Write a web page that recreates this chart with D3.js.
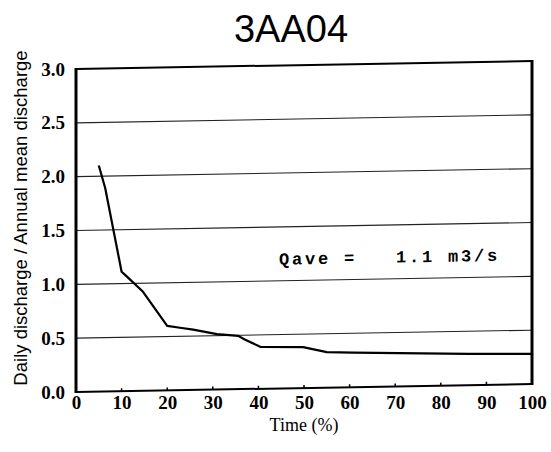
<!DOCTYPE html>
<html>
<head>
<meta charset="utf-8">
<script src="https://cdn.jsdelivr.net/npm/d3@7"></script>
<style>
  html, body { margin: 0; padding: 0; background: #fff; }
  svg { display: block; }
</style>
</head>
<body>
<div id="chart"></div>
<script>
// ---- data ----
const title = "3AA04";
const timePct = [5, 6.4, 10, 11, 14.7, 20, 22.8, 25.7, 30.9, 35.6, 37, 40.4, 49.8, 55, 60.7, 86, 100];
const ratio   = [2.10, 1.89, 1.11, 1.07, 0.92, 0.60, 0.58, 0.56, 0.515, 0.495, 0.46, 0.39, 0.38, 0.33, 0.32, 0.29, 0.28];
const xTicks = [0, 10, 20, 30, 40, 50, 60, 70, 80, 90, 100];
const yTicks = [0.0, 0.5, 1.0, 1.5, 2.0, 2.5, 3.0];
const xLabel = "Time (%)";
const yLabel = "Daily discharge / Annual mean discharge";
const annotation = "Qave =   1.1 m3/s";
const annotationAt = {x: 44.5, y: 1.15};

(function () {
// ---- layout ----
const W = 551, H = 452;
const pL = 76, pR = 532, pT = 69, pB = 392;
const skew = -0.0175;

const svg = d3.select("#chart").append("svg")
  .attr("width", W).attr("height", H);

const x = d3.scaleLinear().domain([0, 100]).range([pL, pR]);
const y = d3.scaleLinear().domain([0, 3]).range([pB, pT]);

// title
svg.append("text")
  .attr("x", 291).attr("y", 42)
  .attr("text-anchor", "middle")
  .attr("font-family", "Liberation Sans, Arial, sans-serif")
  .attr("font-size", 38)
  .attr("fill", "#000")
  .text(title);

// plot group (scan slightly sheared)
const g = svg.append("g")
  .attr("transform", `matrix(1,${skew},0,1,0,${-skew * pL})`);

// gridlines
g.append("g").selectAll("line")
  .data(yTicks.filter(d => d > 0 && d < 3))
  .join("line")
  .attr("x1", x(0)).attr("x2", x(100))
  .attr("y1", d => y(d)).attr("y2", d => y(d))
  .attr("stroke", "#222").attr("stroke-width", 1.1);

// bottom small ticks
g.append("g").selectAll("line")
  .data(xTicks.filter(d => d > 0 && d < 100))
  .join("line")
  .attr("x1", d => x(d)).attr("x2", d => x(d))
  .attr("y1", y(0)).attr("y2", y(0) - 3)
  .attr("stroke", "#000").attr("stroke-width", 1.5);

// frame
g.append("line").attr("x1", x(0)).attr("x2", x(100)).attr("y1", y(3)).attr("y2", y(3))
  .attr("stroke", "#000").attr("stroke-width", 2);
g.append("line").attr("x1", x(0)).attr("x2", x(100)).attr("y1", y(0)).attr("y2", y(0))
  .attr("stroke", "#000").attr("stroke-width", 2);
g.append("line").attr("x1", x(0)).attr("x2", x(0)).attr("y1", y(3) - 1).attr("y2", y(0) + 1)
  .attr("stroke", "#000").attr("stroke-width", 3);
g.append("line").attr("x1", x(100)).attr("x2", x(100)).attr("y1", y(3) - 1).attr("y2", y(0) + 1)
  .attr("stroke", "#000").attr("stroke-width", 3);

// curve
const line = d3.line().x(d => x(d[0])).y(d => y(d[1]));
g.append("path")
  .datum(timePct.map((t, i) => [t, ratio[i]]))
  .attr("d", line)
  .attr("fill", "none")
  .attr("stroke", "#000")
  .attr("stroke-width", 2.2)
  .attr("stroke-linejoin", "round");

// annotation
g.append("text")
  .attr("x", x(annotationAt.x)).attr("y", y(annotationAt.y))
  .attr("font-family", "Liberation Mono, Courier New, monospace")
  .attr("font-weight", "bold")
  .attr("font-size", 17)
  .attr("letter-spacing", 2.8)
  .style("white-space", "pre")
  .attr("fill", "#000")
  .text(annotation);

// y-axis tick labels
const yAxis = d3.axisLeft(y).tickValues(yTicks).tickFormat(d3.format(".1f")).tickSize(0).tickPadding(11);
const ya = svg.append("g").attr("transform", `translate(${pL},0)`).call(yAxis);
ya.select(".domain").remove();
ya.selectAll("text")
  .attr("font-family", "Liberation Serif, Times New Roman, serif")
  .attr("font-weight", "bold")
  .attr("font-size", 19)
  .attr("fill", "#000");

// x-axis tick labels
const xAxis = d3.axisBottom(x).tickValues(xTicks).tickFormat(d3.format("d")).tickSize(0).tickPadding(4);
const xa = svg.append("g").attr("transform", `translate(0,${pB})`).call(xAxis);
xa.select(".domain").remove();
xa.selectAll("text")
  .attr("font-family", "Liberation Serif, Times New Roman, serif")
  .attr("font-weight", "bold")
  .attr("font-size", 19)
  .attr("fill", "#000");

// axis titles
svg.append("text")
  .attr("x", 304).attr("y", 431)
  .attr("text-anchor", "middle")
  .attr("font-family", "Liberation Serif, Times New Roman, serif")
  .attr("font-size", 18)
  .attr("fill", "#000")
  .text(xLabel);

svg.append("text")
  .attr("transform", "translate(27,218) rotate(-90)")
  .attr("text-anchor", "middle")
  .attr("font-family", "Liberation Sans, Arial, sans-serif")
  .attr("font-size", 18.5)
  .attr("fill", "#000")
  .text(yLabel);
})();
</script>
</body>
</html>
